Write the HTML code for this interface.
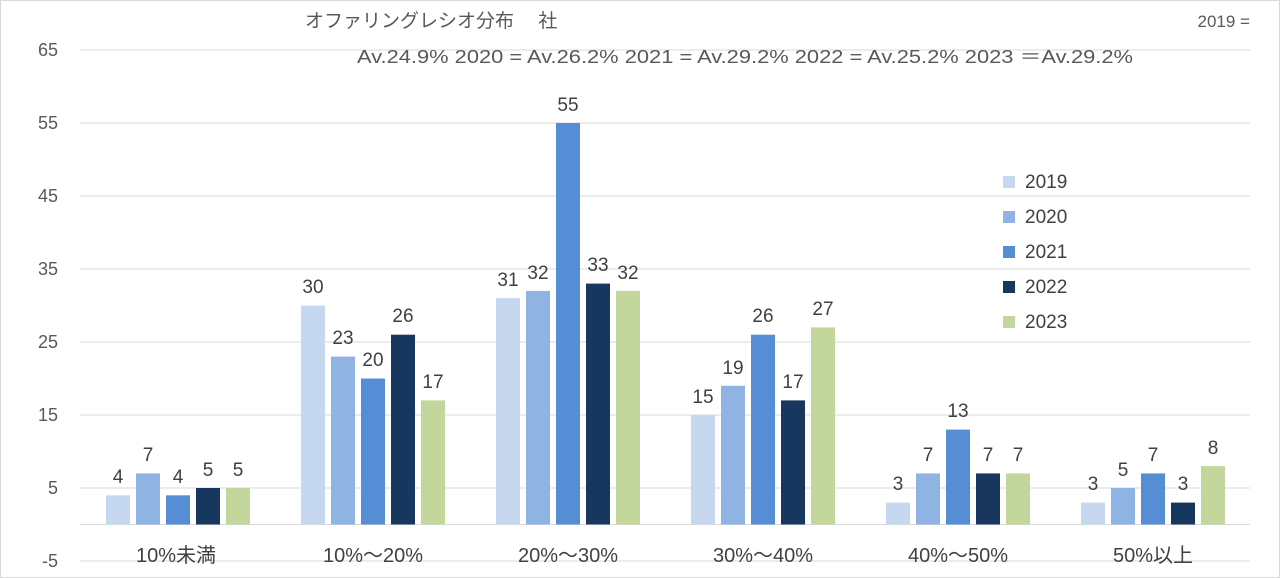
<!DOCTYPE html><html><head><meta charset="utf-8"><style>body{margin:0;background:#fff}svg{display:block;font-family:"Liberation Sans","Noto Sans CJK JP",sans-serif}</style></head><body>
<svg width="1280" height="578" viewBox="0 0 1280 578">
<rect x="0.5" y="0.5" width="1279" height="577" fill="#fff" stroke="#d9d9d9"/>
<g stroke="#d9d9d9" stroke-width="1">
<line x1="80" x2="1250" y1="50" y2="50"/><line x1="80" x2="1250" y1="123" y2="123"/><line x1="80" x2="1250" y1="196" y2="196"/><line x1="80" x2="1250" y1="269" y2="269"/><line x1="80" x2="1250" y1="342" y2="342"/><line x1="80" x2="1250" y1="415" y2="415"/><line x1="80" x2="1250" y1="488" y2="488"/><line x1="80" x2="1250" y1="561" y2="561"/>
</g>
<line x1="80" x2="1250" y1="524.5" y2="524.5" stroke="#d9d9d9"/>
<g fill="#595959" font-size="18" text-anchor="end">
<text x="58" y="56">65</text><text x="58" y="129">55</text><text x="58" y="202">45</text><text x="58" y="275">35</text><text x="58" y="348">25</text><text x="58" y="421">15</text><text x="58" y="494">5</text><text x="58" y="567">-5</text>
</g>
<text x="305" y="27" font-size="19" fill="#595959">オファリングレシオ分布　 社</text>
<text x="1250" y="27" font-size="17" fill="#595959" text-anchor="end">2019 =</text>
<text x="357" y="63" font-size="18" fill="#595959" textLength="776" lengthAdjust="spacingAndGlyphs">Av.24.9%  2020 = Av.26.2% 2021 = Av.29.2%  2022 = Av.25.2%  2023 ＝Av.29.2%</text>
<g>
<rect x="106" y="495.3" width="24" height="29.2" fill="#c5d8ef"/><rect x="136" y="473.4" width="24" height="51.1" fill="#8fb4e3"/><rect x="166" y="495.3" width="24" height="29.2" fill="#558ed5"/><rect x="196" y="488" width="24" height="36.5" fill="#17375e"/><rect x="226" y="488" width="24" height="36.5" fill="#c3d69b"/>
<rect x="301" y="305.5" width="24" height="219" fill="#c5d8ef"/><rect x="331" y="356.6" width="24" height="167.9" fill="#8fb4e3"/><rect x="361" y="378.5" width="24" height="146" fill="#558ed5"/><rect x="391" y="334.7" width="24" height="189.8" fill="#17375e"/><rect x="421" y="400.4" width="24" height="124.1" fill="#c3d69b"/>
<rect x="496" y="298.2" width="24" height="226.3" fill="#c5d8ef"/><rect x="526" y="290.9" width="24" height="233.6" fill="#8fb4e3"/><rect x="556" y="123" width="24" height="401.5" fill="#558ed5"/><rect x="586" y="283.6" width="24" height="240.9" fill="#17375e"/><rect x="616" y="290.9" width="24" height="233.6" fill="#c3d69b"/>
<rect x="691" y="415" width="24" height="109.5" fill="#c5d8ef"/><rect x="721" y="385.8" width="24" height="138.7" fill="#8fb4e3"/><rect x="751" y="334.7" width="24" height="189.8" fill="#558ed5"/><rect x="781" y="400.4" width="24" height="124.1" fill="#17375e"/><rect x="811" y="327.4" width="24" height="197.1" fill="#c3d69b"/>
<rect x="886" y="502.6" width="24" height="21.9" fill="#c5d8ef"/><rect x="916" y="473.4" width="24" height="51.1" fill="#8fb4e3"/><rect x="946" y="429.6" width="24" height="94.9" fill="#558ed5"/><rect x="976" y="473.4" width="24" height="51.1" fill="#17375e"/><rect x="1006" y="473.4" width="24" height="51.1" fill="#c3d69b"/>
<rect x="1081" y="502.6" width="24" height="21.9" fill="#c5d8ef"/><rect x="1111" y="488" width="24" height="36.5" fill="#8fb4e3"/><rect x="1141" y="473.4" width="24" height="51.1" fill="#558ed5"/><rect x="1171" y="502.6" width="24" height="21.9" fill="#17375e"/><rect x="1201" y="466.1" width="24" height="58.4" fill="#c3d69b"/>
</g>
<g fill="#404040" font-size="19" text-anchor="middle">
<text x="118" y="483">4</text><text x="148" y="461">7</text><text x="178" y="483">4</text><text x="208" y="476">5</text><text x="238" y="476">5</text>
<text x="313" y="293">30</text><text x="343" y="344">23</text><text x="373" y="366">20</text><text x="403" y="322">26</text><text x="433" y="388">17</text>
<text x="508" y="286">31</text><text x="538" y="279">32</text><text x="568" y="111">55</text><text x="598" y="271">33</text><text x="628" y="279">32</text>
<text x="703" y="403">15</text><text x="733" y="374">19</text><text x="763" y="322">26</text><text x="793" y="388">17</text><text x="823" y="315">27</text>
<text x="898" y="490">3</text><text x="928" y="461">7</text><text x="958" y="417">13</text><text x="988" y="461">7</text><text x="1018" y="461">7</text>
<text x="1093" y="490">3</text><text x="1123" y="476">5</text><text x="1153" y="461">7</text><text x="1183" y="490">3</text><text x="1213" y="454">8</text>
</g>
<g fill="#404040" font-size="20" text-anchor="middle">
<text x="176" y="562">10%未満</text><text x="373" y="562">10%～20%</text><text x="568" y="562">20%～30%</text><text x="763" y="562">30%～40%</text><text x="958" y="562">40%～50%</text><text x="1153" y="562">50%以上</text>
</g>
<g font-size="19" fill="#404040">
<rect x="1003" y="176" width="12" height="12" fill="#c5d8ef"/><text x="1025" y="188">2019</text>
<rect x="1003" y="211" width="12" height="12" fill="#8fb4e3"/><text x="1025" y="223">2020</text>
<rect x="1003" y="246" width="12" height="12" fill="#558ed5"/><text x="1025" y="258">2021</text>
<rect x="1003" y="281" width="12" height="12" fill="#17375e"/><text x="1025" y="293">2022</text>
<rect x="1003" y="316" width="12" height="12" fill="#c3d69b"/><text x="1025" y="328">2023</text>
</g>
</svg></body></html>
